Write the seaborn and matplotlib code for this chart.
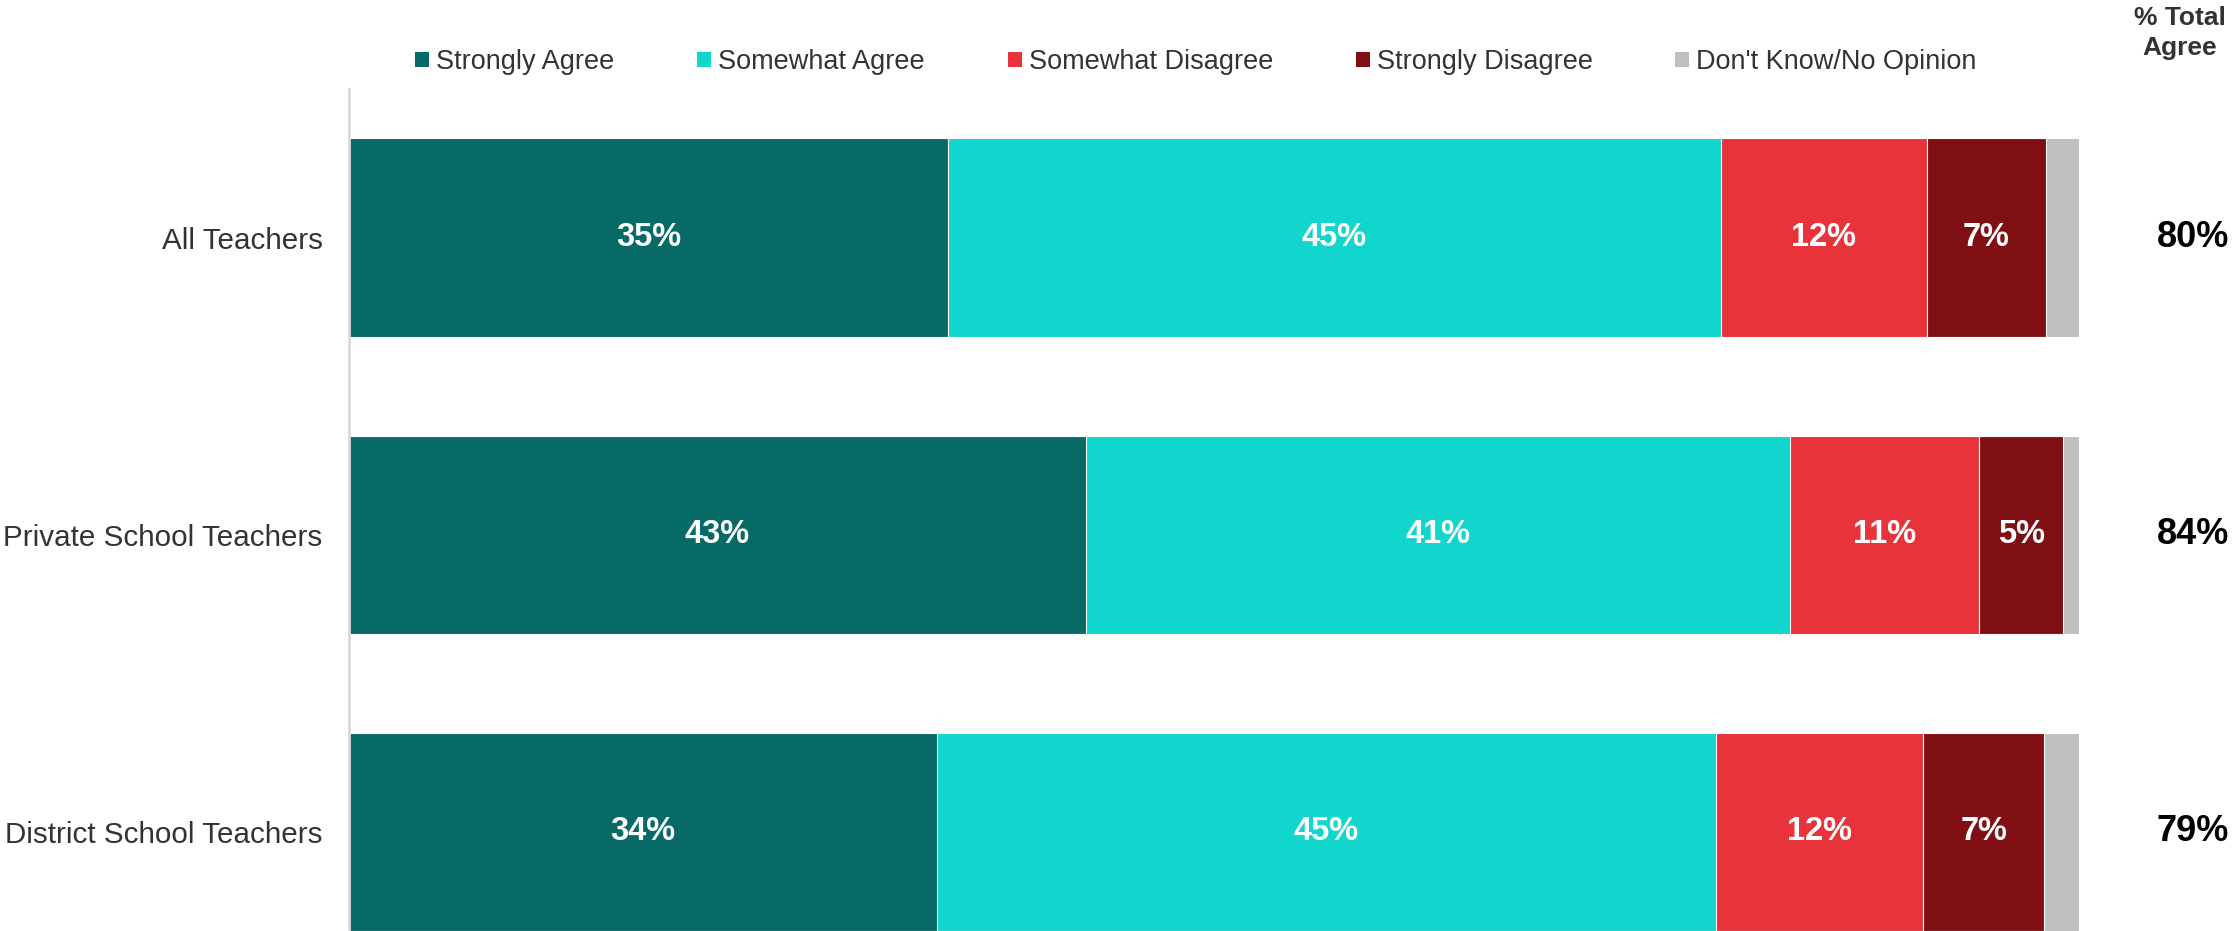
import numpy as np
import pandas as pd
import matplotlib
matplotlib.use("Agg")
import matplotlib.pyplot as plt
import seaborn as sns
from matplotlib.patches import Patch

categories = ["All Teachers", "Private School Teachers", "District School Teachers"]
series = ["Strongly Agree", "Somewhat Agree", "Somewhat Disagree",
          "Strongly Disagree", "Don't Know/No Opinion"]
strongly_agree = [34.6, 42.6, 34.0]
somewhat_agree = [44.7, 40.7, 45.0]
somewhat_disagree = [11.9, 10.9, 12.0]
strongly_disagree = [6.9, 4.9, 7.0]
dont_know = [1.9, 0.9, 2.0]
total_agree = [80, 84, 79]
colors = ["#086A66", "#10D6CD", "#E8333A", "#7F0F12", "#BFBFBF"]

sns.set_style("white")
plt.rcParams['font.family'] = ['Liberation Sans', 'DejaVu Sans']

W, H = 2233, 931
fig = plt.figure(figsize=(W / 100, H / 100), dpi=100)
ax = fig.add_axes([349 / W, 0, 1730 / W, 842 / H])

values = np.array([strongly_agree, somewhat_agree, somewhat_disagree,
                   strongly_disagree, dont_know])
cum = values.cumsum(axis=0)

for i in range(len(series) - 1, -1, -1):
    df = pd.DataFrame({"category": categories, "value": cum[i]})
    sns.barplot(data=df, x="value", y="category", orient="h", color=colors[i],
                saturation=1, width=0.667, edgecolor="white", linewidth=0.8,
                ax=ax, errorbar=None)

for i in range(len(series) - 1):
    for j in range(len(categories)):
        v = values[i][j]
        left = cum[i][j] - v
        ax.text(left + v / 2, j, f"{round(v):.0f}%", ha="center", va="center",
                color="white", fontsize=23.5, fontweight="bold")

for j, t in enumerate(total_agree):
    ax.text(106.6, j, f"{t}%", ha="center", va="center", color="black",
            fontsize=26, fontweight="bold", clip_on=False)

fig.text(2180 / W, 1 - 33 / H, "% Total\nAgree", ha="center", va="center",
         fontsize=19, fontweight="bold", color="#333333", linespacing=1.3)

ax.set_xlim(0, 100)
ax.set_ylim(2 + 0.3335, -0.5)
ax.set_xlabel("")
ax.set_ylabel("")
ax.set_xticks([])
for s in ["top", "right", "bottom"]:
    ax.spines[s].set_visible(False)
ax.spines["left"].set_color("#D9D9D9")
ax.spines["left"].set_linewidth(2)
ax.tick_params(axis="y", length=0, pad=19, labelsize=21.3, labelcolor="#333333")

handles = [Patch(facecolor=c, edgecolor="none") for c in colors]
fig.legend(handles, series, loc="center", bbox_to_anchor=(1196 / W, 1 - 62 / H),
           ncol=5, frameon=False, fontsize=19.5, labelcolor="#333333",
           handlelength=0.52, handleheight=0.52, handletextpad=0.26,
           columnspacing=3.05, borderpad=0, borderaxespad=0)

fig.savefig("out.png", dpi=100)
